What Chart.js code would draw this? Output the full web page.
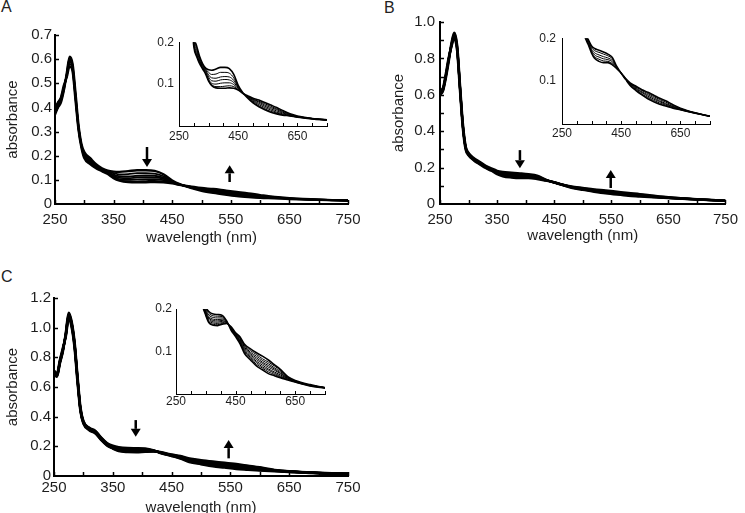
<!DOCTYPE html>
<html>
<head>
<meta charset="utf-8">
<script src="https://cdn.jsdelivr.net/npm/chart.js@4.4.1/dist/chart.umd.min.js"></script>
<style>
  html, body { margin: 0; padding: 0; background: #fff; overflow: hidden; }
  body { width: 745px; height: 513px; position: relative; font-family: "Liberation Sans", Arial, sans-serif; }
  canvas { position: absolute; }
  .tag { position: absolute; font-size: 16px; color: #222; }
</style>
</head>
<body>
<div class="tag" style="left:1px; top:-2px">A</div>
<div class="tag" style="left:384px; top:-1px">B</div>
<div class="tag" style="left:1px; top:268px">C</div>

<canvas id="mainA" width="372" height="250" style="left:0; top:0"></canvas>
<canvas id="mainB" width="373" height="250" style="left:372px; top:0"></canvas>
<canvas id="mainC" width="372" height="272" style="left:0; top:250px"></canvas>
<canvas id="insetA" width="200" height="120" style="left:140px; top:30px"></canvas>
<canvas id="insetB" width="210" height="120" style="left:522px; top:25px"></canvas>
<canvas id="insetC" width="200" height="120" style="left:136px; top:295px"></canvas>

<script>
// wavelengths (nm) shared by all spectra
const wavelengths = [250, 255, 260, 265, 270, 275, 280, 285, 290, 295, 300, 310, 320, 330, 340, 350, 360, 375, 390, 405, 420, 435, 450, 465, 480, 500, 520, 540, 560, 580, 600, 625, 650, 700, 750];

// Panel A spectra (first -> last)
const spectraA = [
  [.37, .40, .42, .47, .54, .61, .58, .46, .33, .25, .215, .19, .165, .148, .138, .134, .133, .136, .140, .140, .137, .123, .097, .080, .068, .055, .046, .039, .033, .029, .026, .024, .021, .017, .014],
  [.375, .40, .425, .47, .54, .605, .575, .455, .325, .247, .21, .185, .162, .146, .136, .128, .123, .124, .128, .128, .126, .115, .094, .080, .069, .057, .048, .041, .035, .031, .027, .024, .021, .017, .014],
  [.38, .41, .43, .475, .535, .60, .57, .45, .32, .244, .205, .18, .158, .144, .134, .122, .115, .114, .117, .118, .117, .109, .092, .079, .070, .059, .051, .044, .038, .033, .029, .025, .022, .017, .014],
  [.385, .41, .43, .48, .535, .595, .565, .445, .32, .242, .20, .175, .155, .142, .131, .117, .108, .107, .110, .111, .110, .104, .090, .079, .071, .061, .054, .047, .041, .036, .031, .026, .022, .018, .014],
  [.39, .41, .435, .48, .53, .59, .56, .44, .315, .24, .197, .17, .152, .14, .128, .112, .102, .100, .102, .103, .103, .099, .089, .079, .072, .063, .057, .050, .044, .039, .033, .027, .023, .018, .015],
  [.39, .42, .44, .485, .53, .58, .555, .435, .31, .238, .194, .167, .15, .138, .126, .109, .099, .094, .094, .095, .096, .094, .087, .078, .072, .064, .059, .053, .047, .041, .035, .028, .023, .018, .015],
  [.40, .42, .44, .49, .525, .57, .55, .43, .31, .235, .19, .165, .148, .136, .124, .107, .097, .091, .090, .090, .091, .090, .086, .078, .073, .066, .062, .056, .050, .044, .037, .029, .024, .018, .015]
];

// Panel B spectra
const spectraB = [
  [.60, .62, .69, .78, .88, .94, .87, .65, .44, .315, .28, .25, .23, .21, .195, .182, .176, .172, .168, .163, .155, .134, .118, .104, .090, .078, .068, .059, .052, .046, .042, .037, .033, .025, .018],
  [.605, .62, .695, .785, .875, .935, .865, .645, .435, .312, .277, .247, .227, .207, .192, .178, .171, .167, .163, .159, .152, .133, .118, .104, .091, .080, .070, .062, .055, .049, .044, .038, .033, .025, .018],
  [.61, .625, .70, .79, .875, .93, .86, .64, .43, .31, .275, .245, .225, .205, .19, .174, .166, .161, .157, .154, .148, .132, .118, .105, .093, .082, .073, .065, .058, .052, .046, .040, .034, .025, .018],
  [.615, .63, .70, .79, .87, .925, .855, .64, .43, .307, .272, .243, .222, .202, .187, .171, .161, .156, .152, .150, .145, .131, .119, .105, .094, .084, .075, .068, .061, .054, .048, .041, .035, .026, .018],
  [.62, .63, .705, .795, .87, .92, .85, .635, .425, .305, .27, .24, .22, .20, .185, .168, .157, .151, .147, .146, .141, .130, .119, .106, .095, .086, .078, .071, .064, .057, .051, .043, .036, .026, .018],
  [.625, .635, .71, .80, .865, .91, .845, .63, .42, .30, .268, .238, .218, .198, .183, .165, .153, .146, .143, .143, .138, .129, .119, .106, .096, .088, .080, .074, .067, .060, .054, .045, .037, .026, .018]
];

// Panel C spectra
const spectraC = [
  [.69, .67, .76, .84, .96, 1.10, 1.04, .90, .67, .46, .37, .325, .305, .26, .222, .204, .194, .188, .187, .185, .172, .150, .135, .118, .095, .080, .066, .057, .048, .043, .038, .033, .028, .019, .014],
  [.69, .67, .76, .84, .96, 1.095, 1.035, .895, .665, .457, .368, .323, .303, .258, .220, .201, .190, .184, .183, .182, .171, .151, .136, .120, .098, .083, .070, .061, .052, .046, .040, .034, .028, .019, .014],
  [.695, .675, .765, .845, .955, 1.09, 1.03, .89, .66, .454, .366, .321, .301, .256, .218, .198, .186, .180, .179, .179, .170, .152, .137, .122, .101, .086, .074, .064, .056, .049, .042, .035, .029, .020, .014],
  [.70, .675, .765, .845, .955, 1.085, 1.03, .89, .66, .451, .364, .319, .299, .254, .216, .195, .182, .176, .175, .176, .169, .153, .138, .124, .104, .089, .077, .068, .059, .052, .045, .036, .029, .020, .015],
  [.70, .68, .77, .85, .95, 1.08, 1.025, .885, .655, .448, .362, .317, .297, .252, .214, .193, .179, .173, .172, .173, .168, .154, .139, .126, .107, .092, .081, .072, .063, .056, .048, .037, .030, .020, .015],
  [.70, .68, .77, .85, .95, 1.075, 1.02, .88, .65, .445, .36, .315, .295, .25, .212, .191, .176, .170, .169, .171, .168, .155, .140, .128, .110, .095, .085, .075, .067, .059, .050, .038, .030, .021, .015],
  [.705, .685, .775, .855, .945, 1.07, 1.015, .875, .645, .442, .358, .313, .293, .248, .210, .189, .173, .167, .166, .168, .167, .156, .141, .130, .113, .098, .089, .079, .071, .062, .053, .039, .031, .021, .015],
  [.71, .685, .775, .855, .945, 1.065, 1.01, .87, .64, .44, .356, .311, .291, .246, .208, .187, .170, .164, .163, .166, .167, .157, .142, .132, .115, .102, .093, .083, .075, .066, .056, .040, .031, .021, .015],
  [.71, .69, .78, .86, .94, 1.06, 1.005, .865, .635, .437, .354, .309, .289, .244, .206, .185, .168, .162, .161, .164, .166, .158, .144, .134, .117, .106, .097, .089, .080, .069, .058, .041, .032, .022, .015]
];

// tick labels
const mainXLabels = [250, 350, 450, 550, 650, 750];
const insetXLabels = [250, 450, 650];

// arrows: [wavelength, from absorbance, to absorbance]
const arrowsA = [[407, 0.236, 0.153], [548, 0.091, 0.160]];
const arrowsB = [[390, 0.296, 0.197], [549, 0.088, 0.187]];
const arrowsC = [[389, 0.377, 0.264], [547, 0.119, 0.242]];

Chart.defaults.font.family = '"Liberation Sans", Arial, sans-serif';
Chart.defaults.color = '#1e1e1e';

// small tick marks drawn on the axes
const tickMarks = {
  id: 'tickMarks',
  afterDatasetsDraw(chart, args, opts) {
    const ctx = chart.ctx;
    const x = chart.scales.x, y = chart.scales.y;
    ctx.save();
    ctx.strokeStyle = '#000';
    ctx.lineWidth = opts.width;
    x.ticks.forEach(t => {
      const px = Math.round(x.getPixelForValue(t.value)) + 0.5;
      ctx.beginPath();
      ctx.moveTo(px, y.bottom);
      ctx.lineTo(px, y.bottom - opts.xLen);
      ctx.stroke();
    });
    y.ticks.forEach(t => {
      if (t.value === 0) return;
      const py = Math.round(y.getPixelForValue(t.value)) + 0.5;
      ctx.beginPath();
      ctx.moveTo(x.left, py);
      ctx.lineTo(x.left + opts.yLen, py);
      ctx.stroke();
    });
    ctx.restore();
  }
};

// up / down arrows
const arrowMarks = {
  id: 'arrowMarks',
  afterDatasetsDraw(chart, args, opts) {
    const list = opts.list || [];
    const ctx = chart.ctx;
    const x = chart.scales.x, y = chart.scales.y;
    ctx.save();
    ctx.strokeStyle = '#000';
    ctx.fillStyle = '#000';
    list.forEach(a => {
      const px = x.getPixelForValue(a[0]);
      const p0 = y.getPixelForValue(a[1]);
      const p1 = y.getPixelForValue(a[2]);
      const dir = p1 > p0 ? 1 : -1;
      const head = 8;
      ctx.lineWidth = 2.5;
      ctx.beginPath();
      ctx.moveTo(px, p0);
      ctx.lineTo(px, p1 - dir * head);
      ctx.stroke();
      ctx.beginPath();
      ctx.moveTo(px - 5, p1 - dir * head);
      ctx.lineTo(px + 5, p1 - dir * head);
      ctx.lineTo(px, p1);
      ctx.closePath();
      ctx.fill();
    });
    ctx.restore();
  }
};

function makeChart(id, spectra, cfg) {
  const last = spectra.length - 1;
  const datasets = spectra.map((vals, k) => ({
    data: wavelengths.map((w, i) => ({ x: w, y: vals[i] })),
    borderColor: '#000',
    borderWidth: (k === 0 || k === last) ? cfg.edgeWidth : cfg.lineWidth,
    pointRadius: 0,
    cubicInterpolationMode: 'monotone',
    fill: false
  }));

  return new Chart(document.getElementById(id), {
    type: 'line',
    data: { datasets: datasets },
    options: {
      responsive: false,
      animation: false,
      events: [],
      layout: { padding: cfg.padding },
      plugins: {
        legend: { display: false },
        tooltip: { enabled: false },
        tickMarks: cfg.marks,
        arrowMarks: { list: cfg.arrows || [] }
      },
      scales: {
        x: {
          type: 'linear',
          min: 250,
          max: 750,
          afterFit: s => { s.height = cfg.xHeight; },
          grid: { display: false, drawTicks: false },
          border: { display: true, color: '#000', width: cfg.axisWidth },
          ticks: {
            stepSize: 50,
            autoSkip: false,
            maxRotation: 0,
            padding: cfg.xPad,
            font: { size: cfg.tickSize },
            callback: v => cfg.xLabels.includes(v) ? String(v) : ''
          },
          title: cfg.xTitlePad === undefined ? { display: false } : {
            display: true,
            text: 'wavelength (nm)',
            font: { size: 15 },
            padding: { top: 0, bottom: cfg.xTitlePad }
          }
        },
        y: {
          min: 0,
          max: cfg.yMax,
          afterFit: s => { s.width = cfg.yWidth; },
          grid: { display: false, drawTicks: false },
          border: { display: true, color: '#000', width: cfg.axisWidth },
          ticks: {
            stepSize: cfg.yStep,
            autoSkip: false,
            padding: cfg.yPad,
            font: { size: cfg.tickSize },
            callback: cfg.yLabel
          },
          title: cfg.yTitle ? {
            display: true,
            text: 'absorbance',
            font: { size: 15 },
            padding: { top: 4, bottom: 0 }
          } : { display: false }
        }
      }
    },
    plugins: [tickMarks, arrowMarks]
  });
}

const fmt = v => v === 0 ? '0' : v.toFixed(1);
const fmtEven = v => Math.round(v * 10) % 2 === 0 ? fmt(v) : '';
const fmtInset = v => v === 0 ? '' : v.toFixed(1);

const mainMarks = { width: 1.5, xLen: 4, yLen: 4 };
const insetMarks = { width: 1, xLen: 3, yLen: 0 };

makeChart('mainA', spectraA, {
  padding: { left: 0, top: 35, right: 24, bottom: 0 }, yWidth: 55, xHeight: 46,
  yMax: 0.7, yStep: 0.1, yLabel: fmt, xLabels: mainXLabels, tickSize: 15,
  xPad: 7, yPad: 3, lineWidth: 1.8, edgeWidth: 2.4, axisWidth: 2, marks: mainMarks,
  arrows: arrowsA, yTitle: true, xTitlePad: 3.5
});
makeChart('mainB', spectraB, {
  padding: { left: 14, top: 22, right: 13, bottom: 0 }, yWidth: 54, xHeight: 46,
  yMax: 1.0, yStep: 0.1, yLabel: fmtEven, xLabels: mainXLabels, tickSize: 15,
  xPad: 7, yPad: 5, lineWidth: 2.2, edgeWidth: 2.6, axisWidth: 2, marks: mainMarks,
  arrows: arrowsB, yTitle: true, xTitlePad: 5
});
makeChart('mainC', spectraC, {
  padding: { left: 0, top: 48, right: 24, bottom: 0 }, yWidth: 54, xHeight: 46,
  yMax: 1.2, yStep: 0.2, yLabel: fmt, xLabels: mainXLabels, tickSize: 15,
  xPad: 3, yPad: 3, lineWidth: 2.2, edgeWidth: 2.6, axisWidth: 2, marks: mainMarks,
  arrows: arrowsC, yTitle: true, xTitlePad: 5
});

makeChart('insetA', spectraA, {
  padding: { left: 0, top: 12, right: 13, bottom: 0 }, yWidth: 39, xHeight: 24,
  yMax: 0.2, yStep: 0.1, yLabel: fmtInset, xLabels: insetXLabels, tickSize: 12,
  xPad: 3, yPad: 5, lineWidth: 1, edgeWidth: 1.6, axisWidth: 1, marks: insetMarks
});
makeChart('insetB', spectraB, {
  padding: { left: 0, top: 12, right: 22, bottom: 0 }, yWidth: 40, xHeight: 21,
  yMax: 0.2, yStep: 0.1, yLabel: fmtInset, xLabels: insetXLabels, tickSize: 12,
  xPad: 2, yPad: 6, lineWidth: 1, edgeWidth: 1.6, axisWidth: 1, marks: insetMarks
});
makeChart('insetC', spectraC, {
  padding: { left: 0, top: 14, right: 11, bottom: 0 }, yWidth: 40, xHeight: 21,
  yMax: 0.2, yStep: 0.1, yLabel: fmtInset, xLabels: insetXLabels, tickSize: 12,
  xPad: 0, yPad: 4, lineWidth: 1, edgeWidth: 1.6, axisWidth: 1, marks: insetMarks
});
</script>
</body>
</html>
